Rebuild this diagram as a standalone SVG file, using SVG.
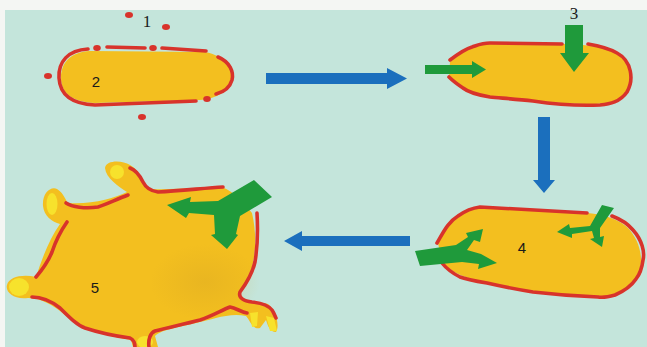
<svg xmlns="http://www.w3.org/2000/svg" width="647" height="347" viewBox="0 0 647 347">
  <style>
    .cell { fill: #f3bf1f; }
    .tip { fill: #f7e22c; }
    .wall { fill: none; stroke: #d8332b; stroke-width: 3.6; stroke-linecap: round; stroke-linejoin: round; }
    .dot { fill: #d8332b; }
    .green { fill: #1f9a3b; }
    .step { fill: #1b6fbd; }
    .num { font-family: "Liberation Serif", serif; font-size: 17px; fill: #1a1a1a; text-anchor: middle; }
    .num-sans { font-family: "Liberation Sans", sans-serif; font-size: 15px; fill: #1a1a1a; text-anchor: middle; }
  </style>
  <defs>
    <radialGradient id="shade" cx="0.5" cy="0.5" r="0.5">
      <stop offset="0" stop-color="#d6a424" stop-opacity="0.35"/>
      <stop offset="1" stop-color="#d6a424" stop-opacity="0"/>
    </radialGradient>
  </defs>

  <!-- page background -->
  <rect x="0" y="0" width="647" height="347" fill="#c4e5db"/>
  <rect x="0" y="0" width="647" height="10" fill="#f4f6f3"/>
  <rect x="0" y="0" width="5" height="347" fill="#f4f6f3"/>

  <!-- stage 1/2: cell with scattered wall fragments -->
  <g id="cell-2">
    <path class="cell" d="M 90,51 L 205,52 C 225,56 233,68 231,80 C 229,92 215,100 196,100 L 95,103 C 72,102 61,93 61,78 C 61,62 71,52 90,51 Z"/>
    <path class="wall" d="M 88,49 C 68,50 58,62 59,78 C 60,95 72,104 95,105 L 196,101"/>
    <path class="wall" d="M 218,57 C 230,62 234,72 232,80 C 230,87 224,92 216,94"/>
    <path class="wall" d="M 107,47 L 145,48"/>
    <path class="wall" d="M 162,48 L 206,51"/>
    <ellipse class="dot" cx="97" cy="48" rx="3.8" ry="3"/>
    <ellipse class="dot" cx="153" cy="48" rx="3.8" ry="3"/>
    <ellipse class="dot" cx="207" cy="99" rx="3.8" ry="3"/>
    <ellipse class="dot" cx="129" cy="15" rx="4" ry="3"/>
    <ellipse class="dot" cx="166" cy="27" rx="4" ry="3"/>
    <ellipse class="dot" cx="48" cy="76" rx="4" ry="3"/>
    <ellipse class="dot" cx="142" cy="117" rx="4" ry="3"/>
    <text class="num" x="147" y="27">1</text>
    <text class="num-sans" x="96" y="87">2</text>
  </g>

  <!-- stage 3: cell with inflowing arrows -->
  <g id="cell-3">
    <path class="cell" d="M 450,62 C 462,52 474,44 492,43 L 562,44 C 580,44 602,46 617,53 C 634,62 636,84 624,96 C 614,104 600,104 585,104 C 560,104 538,100 510,99 C 490,98 476,96 464,88 C 457,83 452,80 449,77 Z"/>
    <path class="wall" d="M 450,60 C 458,54 465,49 472,47 C 478,45 482,43 490,43 L 562,44"/>
    <path class="wall" d="M 588,44 C 600,46 610,49 617,53 C 632,61 634,80 627,92 C 620,102 610,104 600,105 C 580,106 560,105 533,101 C 515,99 500,98 490,97 C 478,95 468,92 463,88 C 457,84 452,80 449,77"/>
    <polygon class="green" points="425,65 472,65 472,61 486,69.5 472,78 472,74 425,74"/>
    <polygon class="green" points="565,25 583,25 583,53 589,53 574,72 560,53 565,53"/>
    <text class="num" x="574" y="19">3</text>
  </g>

  <!-- stage 4: cell with branching inflow -->
  <g id="cell-4">
    <path class="cell" d="M 438,243 C 445,228 455,214 477,208 L 587,213 C 600,214 615,217 627,227 C 642,242 646,266 634,282 C 624,294 610,298 598,297 C 565,296 535,292 487,283 C 468,279 450,272 442,263 Z"/>
    <path class="wall" d="M 437,243 C 443,233 448,222 458,216 C 465,211 472,208 480,207 L 587,213"/>
    <path class="wall" d="M 612,216 C 620,219 628,224 633,230 C 642,240 645,252 643,260 C 642,268 640,274 636,279 C 630,288 622,292 615,295 C 608,297 603,298 598,297 C 570,296 550,294 533,292 C 515,289 500,286 487,283 C 475,281 465,279 460,277 C 452,273 446,268 442,263"/>
    <!-- branching arrow entering from the left -->
    <polygon class="green" points="415,251 456,245 468,237 466,233 483,229 480,242 474,240 467,250 481,254 497,263 478,269 479,264 462,262 420,266"/>
    <!-- branching arrow entering from the top right -->
    <polygon class="green" points="602,205 614,208 600,228 600,237 604,236 602,247 590,239 594,238 592,231 572,234 572,238 557,232 569,224 570,228 590,226"/>
    <text class="num-sans" x="522" y="253">4</text>
  </g>

  <!-- stage 5: swollen cell with protrusions -->
  <g id="cell-5">
    <path class="cell" d="M 105,168 C 106,160 122,160 130,165 C 140,170 142,183 150,189 C 175,190 205,187 222,187 C 235,192 245,205 252,213 C 257,235 256,255 250,275 C 246,285 240,290 240,295 C 245,302 260,302 268,304 C 276,310 280,326 276,332 C 270,332 268,326 266,320 L 260,328 C 252,330 250,320 246,316 C 230,312 210,320 200,322 C 180,327 160,330 155,336 L 158,347 L 133,347 L 131,340 C 110,336 85,332 65,315 C 52,304 40,298 28,298 C 14,300 5,292 7,285 C 9,277 22,274 36,277 C 42,258 50,238 60,224 C 52,222 44,216 43,206 C 42,194 50,186 57,189 C 64,193 65,200 68,203 C 90,205 115,198 127,192 C 118,186 106,178 105,168 Z"/>
    <ellipse cx="205" cy="282" rx="55" ry="38" fill="url(#shade)"/>
    <ellipse class="tip" cx="117" cy="172" rx="7" ry="7"/>
    <ellipse class="tip" cx="52" cy="204" rx="5.5" ry="11"/>
    <ellipse class="tip" cx="19" cy="287" rx="10" ry="9"/>
    <ellipse class="tip" cx="145" cy="342" rx="8" ry="6"/>
    <path class="tip" d="M 250,313 L 258,312 L 257,326 L 252,327 Z"/>
    <path class="tip" d="M 266,316 L 274,318 L 277,331 L 270,331 Z"/>
    <path class="wall" d="M 130,168 C 136,170 140,176 143,182 C 146,188 150,191 158,192 C 180,191 205,188 223,187"/>
    <path class="wall" d="M 128,195 C 115,200 105,205 98,207 C 85,209 72,207 66,203"/>
    <path class="wall" d="M 67,222 C 60,232 55,243 52,252 C 48,262 42,270 36,277"/>
    <path class="wall" d="M 32,297 C 40,297 50,300 60,308 C 70,318 77,325 85,328 C 100,333 115,336 130,338 C 134,340 135,343 135,347"/>
    <path class="wall" d="M 149,347 C 148,340 150,333 155,331 C 170,327 185,324 200,320 C 212,316 222,310 230,307 C 236,308 241,312 247,313"/>
    <path class="wall" d="M 257,213 C 258,230 257,250 255,262 C 252,275 246,284 240,292 C 238,298 244,301 252,302 C 262,303 268,305 272,310 C 274,313 275,316 276,318"/>
    <polygon class="green" points="254,180 272,197 240,216 236,234 238,235 227,249 211,235 215,234 214,215 189,213 186,218 167,205 191,197 190,202 218,201"/>
    <text class="num-sans" x="95" y="293">5</text>
  </g>

  <!-- stage transitions -->
  <g id="connectors">
    <polygon class="step" points="266,73 387,73 387,68 407,78.5 387,89 387,84 266,84"/>
    <polygon class="step" points="538,117 550,117 550,180 555,180 544,193 533,180 538,180"/>
    <polygon class="step" points="410,236 302,236 302,231 284,241 302,251 302,246 410,246"/>
  </g>
</svg>
